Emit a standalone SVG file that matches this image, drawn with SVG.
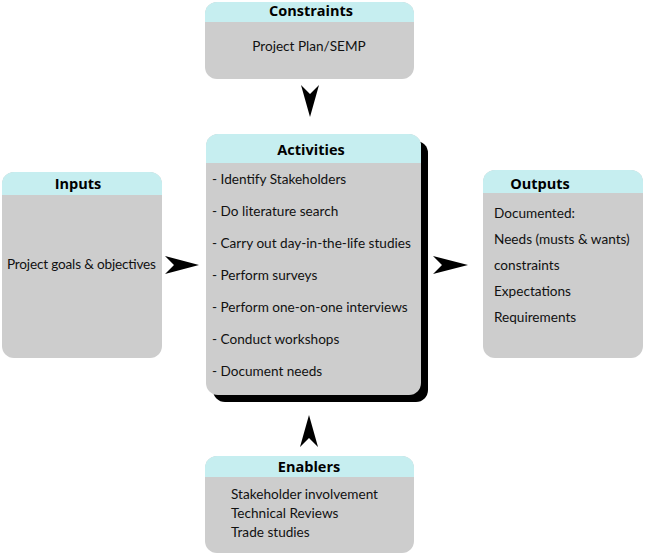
<svg xmlns="http://www.w3.org/2000/svg" width="645" height="556" viewBox="0 0 645 556">
<defs>
<style>
.body{fill:#cdcdcd}
.head{fill:#c6eef0}
.t{font-family:Lato,"Open Sans","Liberation Sans",sans-serif;font-size:13.6px;fill:#111}
.h{font-family:"Open Sans","Liberation Sans",sans-serif;font-size:14.5px;font-weight:bold;fill:#000;text-anchor:middle}
.c{text-anchor:middle}
.arr{fill:#000}
</style>
<clipPath id="cC"><rect x="205" y="2" width="209" height="77" rx="12"/></clipPath>
<clipPath id="cA"><rect x="206" y="134" width="215" height="261" rx="12"/></clipPath>
<clipPath id="cI"><rect x="2" y="172" width="160" height="186" rx="12"/></clipPath>
<clipPath id="cO"><rect x="483" y="170" width="160" height="188" rx="12"/></clipPath>
<clipPath id="cE"><rect x="205" y="456" width="209" height="97" rx="12"/></clipPath>
</defs>

<g id="constraints" clip-path="url(#cC)">
<rect class="body" x="205" y="2" width="209" height="77"/>
<rect class="head" x="205" y="2" width="209" height="20"/>
<text class="h" x="311" y="16">Constraints</text>
<text class="t c" x="309" y="51">Project Plan/SEMP</text>
</g>

<g id="activities">
<rect x="213" y="141" width="215" height="261" rx="12" fill="#000"/>
<g clip-path="url(#cA)">
<rect class="body" x="206" y="134" width="215" height="261"/>
<rect class="head" x="206" y="134" width="215" height="29"/>
</g>
<text class="h" x="311" y="155">Activities</text>
<text class="t" x="212" y="184">- Identify Stakeholders</text>
<text class="t" x="212" y="216">- Do literature search</text>
<text class="t" x="212" y="248">- Carry out day-in-the-life studies</text>
<text class="t" x="212" y="280">- Perform surveys</text>
<text class="t" x="212" y="312">- Perform one-on-one interviews</text>
<text class="t" x="212" y="344">- Conduct workshops</text>
<text class="t" x="212" y="376">- Document needs</text>
</g>

<g id="inputs" clip-path="url(#cI)">
<rect class="body" x="2" y="172" width="160" height="186"/>
<rect class="head" x="2" y="172" width="160" height="23"/>
<text class="h" x="78" y="189">Inputs</text>
<text class="t" x="7" y="269" textLength="149" lengthAdjust="spacing">Project goals &amp; objectives</text>
</g>

<g id="outputs" clip-path="url(#cO)">
<rect class="body" x="483" y="170" width="160" height="188"/>
<rect class="head" x="483" y="170" width="160" height="23"/>
<text class="h" x="540" y="189">Outputs</text>
<text class="t" x="494" y="218">Documented:</text>
<text class="t" x="494" y="244">Needs (musts &amp; wants)</text>
<text class="t" x="494" y="270">constraints</text>
<text class="t" x="494" y="296">Expectations</text>
<text class="t" x="494" y="322">Requirements</text>
</g>

<g id="enablers" clip-path="url(#cE)">
<rect class="body" x="205" y="456" width="209" height="97"/>
<rect class="head" x="205" y="456" width="209" height="21"/>
<text class="h" x="309" y="472">Enablers</text>
<text class="t" x="231" y="499">Stakeholder involvement</text>
<text class="t" x="231" y="518">Technical Reviews</text>
<text class="t" x="231" y="537">Trade studies</text>
</g>

<g id="connectors">
<path class="arr" d="M310,117 L319,85 L310,94 L301,85 Z"/>
<path class="arr" d="M199,265 L165,256 L174,265 L165,274 Z"/>
<path class="arr" d="M468,265 L433,256 L442,265 L433,274 Z"/>
<path class="arr" d="M309,415 L318,447 L309,438 L300,447 Z"/>
</g>
</svg>
